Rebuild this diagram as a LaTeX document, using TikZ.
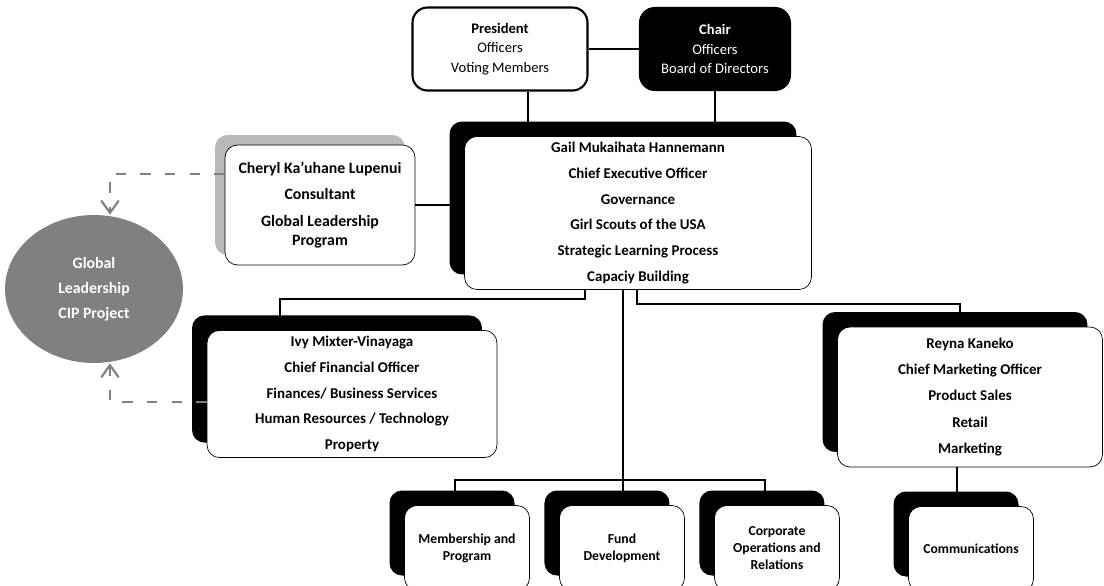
\documentclass[tikz,border=0pt]{standalone}
\usepackage{fontspec}
\setmainfont{Carlito}
\usetikzlibrary{arrows.meta}
\usetikzlibrary{positioning}
\usetikzlibrary{shadows}
\usetikzlibrary{shapes.geometric}

\tikzset{
  topbox/.style={draw, line width=1.2pt, rounded corners=0.3cm, align=center,
    font=\fontsize{8.3}{11.3}\selectfont},
  whitebox/.style={draw, fill=white, rounded corners=0.25cm, align=center,
    font=\bfseries\fontsize{8.5}{14.6}\selectfont},
  card/.style={whitebox,
    general shadow={fill=black, shadow xshift=-0.3cm, shadow yshift=0.3cm}},
  greycard/.style={whitebox,
    general shadow={fill=gray!55, shadow xshift=-0.2cm, shadow yshift=0.2cm}},
  smallcard/.style={card, minimum width=2.5cm, minimum height=1.7cm,
    font=\bfseries\fontsize{7.8}{9.6}\selectfont},
  link/.style={line width=1.3pt},
  dashlink/.style={gray, line width=1.2pt, dash pattern=on 6pt off 8pt}
}

\begin{document}
\begin{tikzpicture}[x=0.02cm, y=-0.02cm, >={Straight Barb[length=7pt,width=10pt]}]
    \useasboundingbox (0,0) rectangle (1104,585);
    \clip (0,0) rectangle (1104,585);

    \node (pres) [topbox, minimum width=3.5cm, minimum height=1.66cm] at (500,49) {\textbf{President}\\Officers\\Voting Members};
    \node (chair) [topbox, fill=black, text=white, minimum width=3cm, minimum height=1.64cm, right of=pres, node distance=4.3cm] {\textbf{Chair}\\Officers\\Board of Directors};

    \node (ceo) [card, minimum width=6.94cm, minimum height=3cm] at (638,213) {Gail Mukaihata Hannemann\\Chief Executive Officer\\Governance\\Girl Scouts of the USA\\Strategic Learning Process\\Capaciy Building};
    \node (cons) [greycard, minimum width=3.8cm, minimum height=2.4cm, font=\bfseries\fontsize{9}{11}\selectfont] at (320,205) {Cheryl Ka'uhane Lupenui\\[4pt]Consultant\\[4pt]Global Leadership\\Program};
    \node (glp) [ellipse, fill=black!50, text=white, minimum width=3.56cm, minimum height=2.96cm, inner sep=0pt, align=center, font=\bfseries\fontsize{9}{14.2}\selectfont] at (94,289) {Global\\Leadership\\CIP Project};

    \node (cfo) [card, minimum width=5.8cm, minimum height=2.44cm] at (352,394) {Ivy Mixter-Vinayaga\\Chief Financial Officer\\Finances/ Business Services\\Human Resources / Technology\\Property};
    \node (cmo) [card, minimum width=5.3cm, minimum height=2.8cm, font=\bfseries\fontsize{8.5}{15}\selectfont] at (970,397) {Reyna Kaneko\\Chief Marketing Officer\\Product Sales\\Retail\\Marketing};

    \node (mem) [smallcard] at (467,548) {Membership and\\Program};
    \node (fund) [smallcard, right of=mem, node distance=3.1cm] {Fund\\Development};
    \node (corp) [smallcard, right of=fund, node distance=3.1cm] {Corporate\\Operations and\\Relations};
    \node (comm) [smallcard] at (971,549) {Communications};

    \draw[link] (pres) -- (chair);
    \draw[link] (pres.south -| 528,0) -- (ceo.north -| 528,0);
    \draw[link] (chair) -- (chair |- ceo.north);
    \draw[link] (cons) -- (cons -| ceo.west);

    \draw[link] (ceo.south -| 585,0) -- ++(0,9) -| (cfo.north -| 280,0);
    \draw[link] (ceo.south -| 637,0) -- ++(0,14) -| (cmo.north -| 960,0);
    \draw[link] (ceo.south -| 623,0) -- (623,480) coordinate (hub);
    \draw[link] (mem.north -| 455,0) |- (hub) -| (corp.north -| 765,0);
    \draw[link] (hub) -- (fund.north -| 623,0);
    \draw[link] (cmo.south -| 957,0) -- (comm.north -| 957,0);

    \draw[dashlink, ->] (cons.west |- 0,174) -| (glp.north -| 110,0);
    \draw[dashlink, ->] (cfo.west |- 0,402) -| (glp.south -| 110,0);
\end{tikzpicture}
\end{document}
